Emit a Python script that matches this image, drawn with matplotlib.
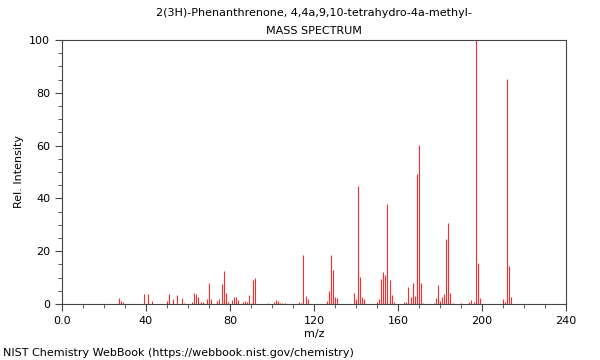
import matplotlib.pyplot as plt
from matplotlib.ticker import MultipleLocator

# m/z and relative intensity
mz = [27, 28, 29, 39, 41, 43, 50, 51, 53, 55, 57, 58,
      62, 63, 64, 65, 66, 67, 69, 70, 71, 74, 75, 76, 77, 78, 79,
      81, 82, 83, 84, 86, 87, 88, 89, 90, 91, 92,
      98, 101, 102, 103, 104, 105, 106,
      113, 114, 115, 116, 117,
      126, 127, 128, 129, 130, 131,
      139, 140, 141, 142, 143, 144,
      150, 151, 152, 153, 154, 155, 156, 157, 158,
      163, 164, 165, 166, 167, 168, 169, 170, 171, 172,
      177, 178, 179, 180, 181, 182, 183, 184, 185, 186,
      190, 194, 195, 196, 197, 198, 199,
      210, 211, 212, 213, 214]
intensity = [2.3, 1.0, 0.8, 3.9, 3.9, 1.0, 1.3, 3.9, 2.0, 3.5, 2.4, 0.5,
             0.9, 4.2, 3.9, 2.8, 0.7, 0.6, 2.0, 7.8, 1.8, 1.0, 1.8, 7.7, 12.6, 4.0, 0.6,
             1.5, 2.8, 2.8, 1.6, 0.6, 1.0, 0.6, 3.4, 0.5, 8.9, 10.0,
             0.3, 0.6, 1.6, 1.3, 0.5, 0.5, 0.4,
             0.6, 0.4, 18.4, 3.2, 1.9,
             1.3, 5.0, 18.7, 12.9, 2.8, 2.2,
             4.3, 2.0, 44.8, 10.2, 2.8, 1.9,
             0.6, 2.0, 9.6, 12.3, 11.1, 37.8, 8.9, 3.4, 0.6,
             0.8, 0.8, 6.4, 2.7, 8.0, 3.0, 49.2, 60.3, 8.0, 0.4,
             0.5, 2.1, 7.2, 1.1, 2.7, 3.9, 24.5, 30.8, 4.0, 0.4,
             0.3, 0.6, 1.5, 0.7, 100.0, 15.4, 2.2,
             1.8, 0.8, 85.1, 14.2, 2.5]

fig = plt.figure(figsize=(6, 3.6), dpi=100)
ax = fig.add_axes([0.1033, 0.1556, 0.84, 0.7333])

ax.vlines(mz, 0, intensity, color='#ff2a2a', linewidth=0.8)

ax.set_xlim(0, 240)
ax.set_ylim(0, 100)
ax.xaxis.set_major_locator(MultipleLocator(40))
ax.xaxis.set_minor_locator(MultipleLocator(10))
ax.yaxis.set_major_locator(MultipleLocator(20))
ax.yaxis.set_minor_locator(MultipleLocator(5))
ax.xaxis.set_major_formatter(lambda v, p: '0.0' if v == 0 else f'{v:.0f}')
ax.tick_params(which='both', direction='out', labelsize=8, color='#444444')
ax.tick_params(which='major', length=5)
ax.tick_params(which='minor', length=3)
for s in ax.spines.values():
    s.set_color('#444444')
    s.set_linewidth(0.8)

ax.set_xlabel('m/z', fontsize=8, labelpad=2)
ax.set_ylabel('Rel. Intensity', fontsize=8)

fig.text(0.5233, 0.963, '2(3H)-Phenanthrenone, 4,4a,9,10-tetrahydro-4a-methyl-',
         ha='center', va='center', fontsize=8)
fig.text(0.5233, 0.915, 'MASS SPECTRUM', ha='center', va='center', fontsize=8)
fig.text(0.005, 0.019, 'NIST Chemistry WebBook (https://webbook.nist.gov/chemistry)',
         ha='left', va='center', fontsize=8)

fig.savefig('out.png', dpi=100)
